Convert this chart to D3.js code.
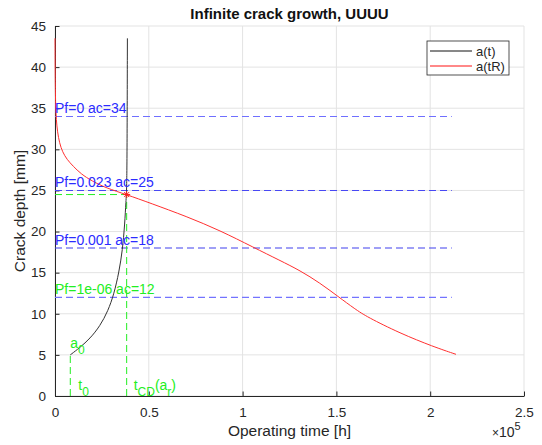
<!DOCTYPE html>
<html>
<head>
<meta charset="utf-8">
<script src="https://cdn.jsdelivr.net/npm/d3@7"></script>
<style>
  body { margin: 0; background: #fff; }
  text { font-family: "Liberation Sans", Arial, sans-serif; }
</style>
</head>
<body>
<div id="chart"></div>
<script>
"use strict";

// black curve a(t): [time h, crack depth mm]
const aT = [[8150, 5.0], [13330, 5.9], [18660, 6.99], [23990, 8.51], [28250, 10.34], [31450, 12.41],
    [34120, 15.08], [35980, 17.76], [37150, 20.8], [37850, 23.84], [38220, 25.05], [38430, 29.9],
    [38590, 43.5]];
// red curve a(tR)
const aTR = [[0, 43.5], [107, 38.43], [320, 35.39], [693, 33.57], [1333, 32.11], [2400, 30.77],
    [4000, 29.68], [6400, 28.76], [9600, 27.97], [13860, 27.0], [19720, 26.15], [27190, 25.3],
    [38220, 24.49], [50640, 23.47], [70200, 21.83], [87950, 20.13], [105700, 18.09],
    [119940, 16.48], [130600, 15.26], [141260, 13.74], [151010, 12.08], [159920, 10.58],
    [166150, 9.64], [183900, 7.63], [201650, 6.0], [213750, 5.07]];
// critical depth lines
const critLabels = ["Pf=0 ac=34", "Pf=0.023 ac=25", "Pf=0.001 ac=18", "Pf=1e-06 ac=12"];
const critDepths = [34, 25, 18, 12];
const critColors = ["#6f6fff", "#4848f4", "#4040ee", "#7373ff"];
const critTextColors = ["#2b2bff", "#2b2bff", "#2b2bff", "#22ee22"];
const critEnd = 211500;
const t0 = 8150, a0 = 5, tCD = 38200, aR = 24.5;
const xTicks = [0, 0.5e5, 1e5, 1.5e5, 2e5, 2.5e5];
const yTicks = [0, 5, 10, 15, 20, 25, 30, 35, 40, 45];

const msm = { width: 542, height: 445, left: 55, right: 524, top: 26, bottom: 396 };
const green = "#22ee22";
const dash = "7,4";

const svg = d3.select("#chart").append("svg")
    .attr("width", msm.width).attr("height", msm.height);

const x = d3.scaleLinear().domain([0, 2.5e5]).range([msm.left, msm.right]);
const y = d3.scaleLinear().domain([0, 45]).range([msm.bottom, msm.top]);

// grid
svg.append("g").selectAll("line").data(xTicks).enter().append("line")
    .attr("x1", d => x(d)).attr("x2", d => x(d))
    .attr("y1", msm.top).attr("y2", msm.bottom)
    .attr("stroke", "#e3e3e3");
svg.append("g").selectAll("line").data(yTicks).enter().append("line")
    .attr("y1", d => y(d)).attr("y2", d => y(d))
    .attr("x1", msm.left).attr("x2", msm.right)
    .attr("stroke", "#e3e3e3");

// axes
const xAxis = d3.axisBottom(x).tickValues(xTicks).tickSizeInner(-4.5).tickSizeOuter(0)
    .tickPadding(11).tickFormat(d => d / 1e5);
const gx = svg.append("g").attr("transform", "translate(0," + msm.bottom + ")").call(xAxis);
const yAxis = d3.axisLeft(y).tickValues(yTicks).tickSizeInner(-4.5).tickSizeOuter(0)
    .tickPadding(9);
const gy = svg.append("g").attr("transform", "translate(" + msm.left + ",0)").call(yAxis);
[gx, gy].forEach(g => {
    g.select(".domain").attr("stroke", "#262626");
    g.selectAll(".tick line").attr("stroke", "#262626");
    g.selectAll(".tick text").attr("fill", "#262626").style("font-size", "13.5px")
        .style("font-family", "Liberation Sans, Arial, sans-serif");
});

const line = d3.line().x(d => x(d[0])).y(d => y(d[1]));
const smooth = d3.line().x(d => x(d[0])).y(d => y(d[1])).curve(d3.curveBasis);

// critical depth dashed lines
critDepths.forEach((ac, i) => {
    svg.append("line")
        .attr("x1", x(0)).attr("x2", x(critEnd))
        .attr("y1", y(ac)).attr("y2", y(ac))
        .attr("stroke", critColors[i]).attr("stroke-width", 1.1)
        .attr("stroke-dasharray", dash);
});

// green guide lines
[[[t0, 0], [t0, a0]], [[tCD, 0], [tCD, aR]], [[0, aR], [tCD, aR]]].forEach(seg => {
    svg.append("path").attr("d", line(seg))
        .attr("stroke", green).attr("stroke-dasharray", dash).attr("fill", "none");
});

// curves
svg.append("path").datum(aTR).attr("d", smooth)
    .attr("fill", "none").attr("stroke", "#ff3030").attr("stroke-width", 1);
svg.append("path").datum(aT).attr("d", smooth)
    .attr("fill", "none").attr("stroke", "#333").attr("stroke-width", 1);

// intersection marker
const mk = svg.append("g").attr("transform", "translate(" + x(tCD) + "," + y(aR) + ")")
    .attr("stroke", "#ff2020").attr("stroke-width", 1);
mk.append("line").attr("x1", -3.5).attr("x2", 3.5);
mk.append("line").attr("y1", -3.5).attr("y2", 3.5);
mk.append("line").attr("x1", -2.5).attr("x2", 2.5).attr("y1", -2.5).attr("y2", 2.5);
mk.append("line").attr("x1", -2.5).attr("x2", 2.5).attr("y1", 2.5).attr("y2", -2.5);

// critical labels
critDepths.forEach((ac, i) => {
    svg.append("text")
        .attr("x", x(0)).attr("y", y(ac) - 3)
        .attr("fill", critTextColors[i]).style("font-size", "14px")
        .text(critLabels[i]);
});

// green annotations
const a0t = svg.append("text").attr("x", x(t0)).attr("y", y(a0) - 7)
    .attr("fill", green).style("font-size", "14px");
a0t.append("tspan").text("a");
a0t.append("tspan").attr("dy", 6).style("font-size", "12px").text("0");

const t0t = svg.append("text").attr("x", x(t0) + 8).attr("y", msm.bottom - 6)
    .attr("fill", green).style("font-size", "14px");
t0t.append("tspan").text("t");
t0t.append("tspan").attr("dy", 6).style("font-size", "12px").text("0");

const tcd = svg.append("text").attr("x", x(tCD) + 7).attr("y", msm.bottom - 6)
    .attr("fill", green).style("font-size", "14px");
tcd.append("tspan").text("t");
tcd.append("tspan").attr("dy", 6).style("font-size", "12px").text("CD");
tcd.append("tspan").attr("dy", -6).text("(a");
tcd.append("tspan").attr("dy", 6).style("font-size", "12px").text("r");
tcd.append("tspan").attr("dy", -6).text(")");

// title and labels
svg.append("text").attr("x", (msm.left + msm.right) / 2).attr("y", 19)
    .attr("text-anchor", "middle").style("font-size", "15px").style("font-weight", "bold")
    .attr("fill", "#111").text("Infinite crack growth, UUUU");
svg.append("text").attr("x", (msm.left + msm.right) / 2).attr("y", 436)
    .attr("text-anchor", "middle").style("font-size", "15.5px").attr("fill", "#262626")
    .text("Operating time [h]");
svg.append("text").attr("transform", "translate(25," + ((msm.top + msm.bottom) / 2) + ") rotate(-90)")
    .attr("text-anchor", "middle").style("font-size", "15.5px").attr("fill", "#262626")
    .text("Crack depth [mm]");
const ex = svg.append("text").attr("x", 492).attr("y", 437).attr("fill", "#262626").style("font-size", "14px");
ex.append("tspan").style("font-size", "12px").text("×");
ex.append("tspan").text("10");
ex.append("tspan").attr("dy", -7).style("font-size", "11px").text("5");

// legend
const lg = svg.append("g").attr("transform", "translate(427,41)");
lg.append("rect").attr("width", 82).attr("height", 34).attr("fill", "#fff")
    .attr("stroke", "#262626").attr("stroke-width", 0.8);
const names = ["a(t)", "a(tR)"];
const lcols = ["#111", "#ff6060"];
names.forEach((n, i) => {
    lg.append("line").attr("x1", 3).attr("x2", 45).attr("y1", 10 + i * 15).attr("y2", 10 + i * 15)
        .attr("stroke", lcols[i]).attr("stroke-width", i ? 1.5 : 1);
    lg.append("text").attr("x", 49).attr("y", 14.5 + i * 15).style("font-size", "13px")
        .attr("fill", "#262626").text(n);
});
</script>
</body>
</html>
